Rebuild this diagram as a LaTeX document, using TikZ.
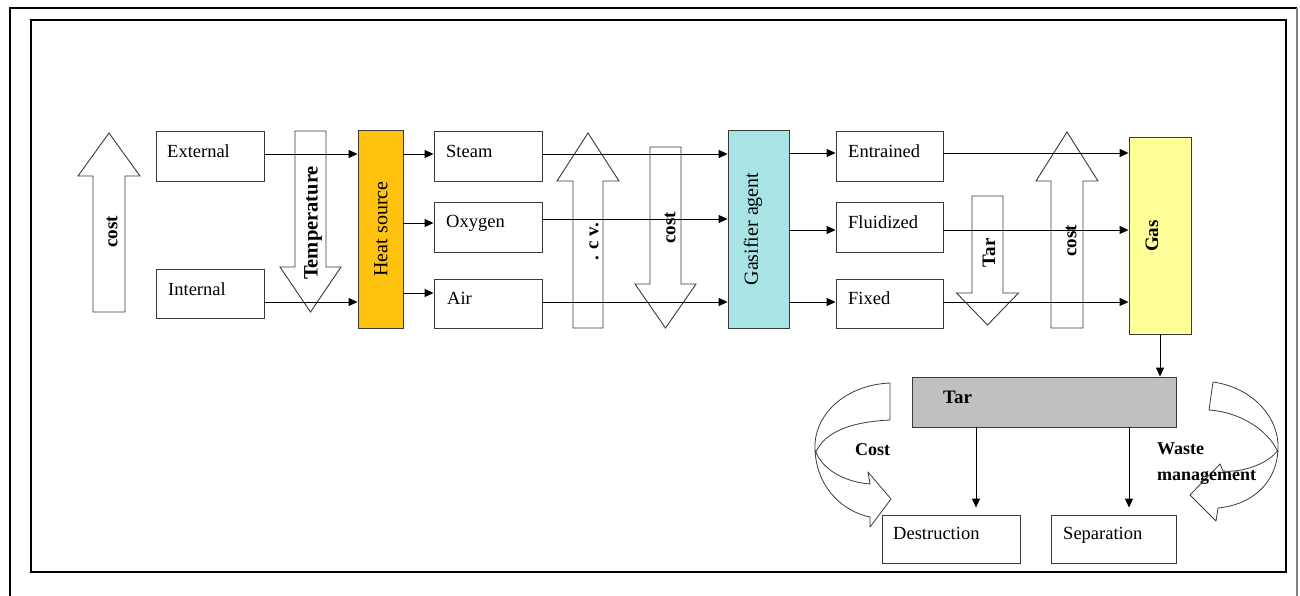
\documentclass[tikz,border=0pt]{standalone}
\usepackage{fontspec}
\setmainfont{Liberation Serif}
\usetikzlibrary{arrows.meta,calc}
\definecolor{heatc}{HTML}{FFC20E}
\definecolor{gasifc}{HTML}{A8E4E6}
\definecolor{gasc}{HTML}{FFFF99}
\definecolor{tarc}{HTML}{C0C0C0}
\definecolor{linec}{HTML}{3A3A3A}
\newcommand\blockarrow[6]{%
  \draw[blk] (#1-#2,#4) -- (#1+#2,#4) -- (#1+#2,#5) -- (#1+#3,#5) -- (#1,#6) -- (#1-#3,#5) -- (#1-#2,#5) -- cycle;}
\tikzset{
  box/.style={draw=linec, line width=0.9pt, fill=white, inner sep=0pt},
  lbl/.style={font=\fontsize{18.5}{20}\selectfont, anchor=mid west, inner sep=0pt},
  blbl/.style={font=\bfseries\fontsize{18}{20}\selectfont, anchor=mid west, inner sep=0pt},
  arr/.style={draw=black, line width=0.9pt, -{Triangle[length=9pt,width=8pt]}},
  blk/.style={draw=linec, line width=0.9pt, fill=white, line join=miter},
  vt/.style={rotate=90, font=\bfseries\fontsize{19}{20}\selectfont, inner sep=0pt},
  vr/.style={rotate=90, font=\fontsize{20}{22}\selectfont, inner sep=0pt},
  curv/.style={draw=linec, line width=0.8pt, line join=round},
}
\begin{document}
\begin{tikzpicture}[x=1pt,y=-1pt]
\useasboundingbox (0,0) rectangle (1300,596);
% frames
\draw[line width=2pt] (10,596) -- (10,8) -- (1297,8);
\draw[line width=2pt, gray] (1297,8) -- (1297,596);
\draw[line width=2.5pt] (31,20) rectangle (1286,572);

% block arrows
\blockarrow{109}{16}{31}{312}{176}{133}
\blockarrow{310.5}{15.5}{30.5}{131}{267}{312}
\blockarrow{588}{15}{31}{328}{181}{133}
\blockarrow{665.5}{15.5}{30.5}{147}{284}{328}
\blockarrow{987.5}{15.5}{31}{196}{293}{325}
\blockarrow{1067}{16}{31}{328}{181}{132}

\node[vt] (tcost1) at (112,232) {cost};
\node[vt, font=\bfseries\fontsize{20.5}{22}\selectfont] (ttemp) at (313,223) {Temperature};
\node[vt] (tcv) at (594,242) {. c v.};
\node[vt] (tcost2) at (670,228) {cost};
\node[vt] (ttar) at (989,253) {Tar};
\node[vt] (tcost3) at (1071,241) {cost};

% boxes
\node[box, minimum width=108pt, minimum height=50pt] (ext) at (210,156) {};
\node[box, minimum width=108pt, minimum height=49pt] (int) at (210,293.5) {};
\node[box, fill=heatc, minimum width=45pt, minimum height=198pt] (heat) at (380.5,229) {};
\node[box, minimum width=108pt, minimum height=50pt] (steam) at (488,156) {};
\node[box, minimum width=108pt, minimum height=50pt] (oxy) at (488,227) {};
\node[box, minimum width=108pt, minimum height=49pt] (air) at (488,303.5) {};
\node[box, fill=gasifc, minimum width=61pt, minimum height=198pt] (gasif) at (758.5,229) {};
\node[box, minimum width=107pt, minimum height=50pt] (entr) at (889.5,156) {};
\node[box, minimum width=107pt, minimum height=50pt] (flu) at (889.5,227) {};
\node[box, minimum width=107pt, minimum height=49pt] (fix) at (889.5,303.5) {};
\node[box, fill=gasc, minimum width=62pt, minimum height=197pt] (gas) at (1160,235.5) {};
\node[box, fill=tarc, minimum width=264pt, minimum height=50pt] (tar) at (1044,402) {};
\node[box, minimum width=138pt, minimum height=48pt] (des) at (951,539) {};
\node[box, minimum width=125pt, minimum height=48pt] (sep) at (1113.5,539) {};

% box labels
\node[lbl] (lext) at (167,155) {External};
\node[lbl] (lint) at (168,293) {Internal};
\node[vr] (lheat) at (381,229) {Heat source};
\node[lbl] (lsteam) at (446,155) {Steam};
\node[lbl] (loxy) at (446,225) {Oxygen};
\node[lbl] (lair) at (447,302) {Air};
\node[vr] (lgasif) at (753,229) {Gasifier agent};
\node[lbl] (lentr) at (848,155) {Entrained};
\node[lbl] (lflu) at (848,226) {Fluidized};
\node[lbl] (lfix) at (848,302) {Fixed};
\node[vt] (lgas) at (1152,236) {Gas};
\node[blbl, font=\bfseries\fontsize{19}{20}\selectfont] (ltar) at (943,401) {Tar};
\node[lbl] (ldes) at (893,537) {Destruction};
\node[lbl] (lsep) at (1063,537) {Separation};

% connectors
\coordinate (c1) at ($(ext.east)+(0,-2)$);
\draw[arr] (c1) -- (c1 -| heat.west);
\coordinate (c2) at ($(int.east)+(0,8.5)$);
\draw[arr] (c2) -- (c2 -| heat.west);
\coordinate (c3) at ($(steam.west)+(0,-2)$);
\draw[arr] (c3 -| heat.east) -- (c3);
\coordinate (c4) at ($(oxy.west)+(0,-4)$);
\draw[arr] (c4 -| heat.east) -- (c4);
\coordinate (c5) at ($(air.west)+(0,-10.5)$);
\draw[arr] (c5 -| heat.east) -- (c5);
\coordinate (c6) at ($(steam.east)+(0,-2)$);
\draw[arr] (c6) -- (c6 -| gasif.west);
\coordinate (c7) at ($(oxy.east)+(0,-8)$);
\draw[arr] (c7) -- (c7 -| gasif.west);
\coordinate (c8) at ($(air.east)+(0,-1.5)$);
\draw[arr] (c8) -- (c8 -| gasif.west);
\coordinate (c9) at ($(entr.west)+(0,-3)$);
\draw[arr] (c9 -| gasif.east) -- (c9);
\coordinate (c10) at ($(flu.west)+(0,3)$);
\draw[arr] (c10 -| gasif.east) -- (c10);
\coordinate (c11) at ($(fix.west)+(0,-1.5)$);
\draw[arr] (c11 -| gasif.east) -- (c11);
\coordinate (c12) at ($(entr.east)+(0,-3)$);
\draw[arr] (c12) -- (c12 -| gas.west);
\coordinate (c13) at ($(flu.east)+(0,3)$);
\draw[arr] (c13) -- (c13 -| gas.west);
\coordinate (c14) at ($(fix.east)+(0,-1.5)$);
\draw[arr] (c14) -- (c14 -| gas.west);
\draw[arr] (gas.south) -- (gas.south |- tar.north);
\coordinate (c16) at ($(des.north)+(25,-7)$);
\draw[arr] (c16 |- tar.south) -- (c16);
\coordinate (c17) at ($(sep.north)+(15.5,-7)$);
\draw[arr] (c17 |- tar.south) -- (c17);

% curved arrows
\draw[curv] (890,383) .. controls (845,385) and (813,415) .. (815,450) .. controls (817,490) and (845,512) .. (870,517) -- (870,527) -- (891,499) -- (868,472) -- (870,484) .. controls (845,482) and (822,470) .. (815,450);
\draw[curv] (890,383) -- (890,420) .. controls (850,422) and (825,432) .. (816,452);
\draw[curv] (1213,382) .. controls (1255,388) and (1280,420) .. (1278,450) .. controls (1276,485) and (1250,505) .. (1218,508) -- (1216,521) -- (1190,495) -- (1220,464) -- (1223,471) .. controls (1245,473) and (1270,462) .. (1278,450);
\draw[curv] (1213,382) -- (1209,410) .. controls (1240,412) and (1268,430) .. (1278,452);

\node[blbl] (lcost) at (855,453) {Cost};
\node[blbl] (lwaste) at (1157,452) {Waste};
\node[blbl] (lwm) at (1157,478) {management};
\end{tikzpicture}
\end{document}
